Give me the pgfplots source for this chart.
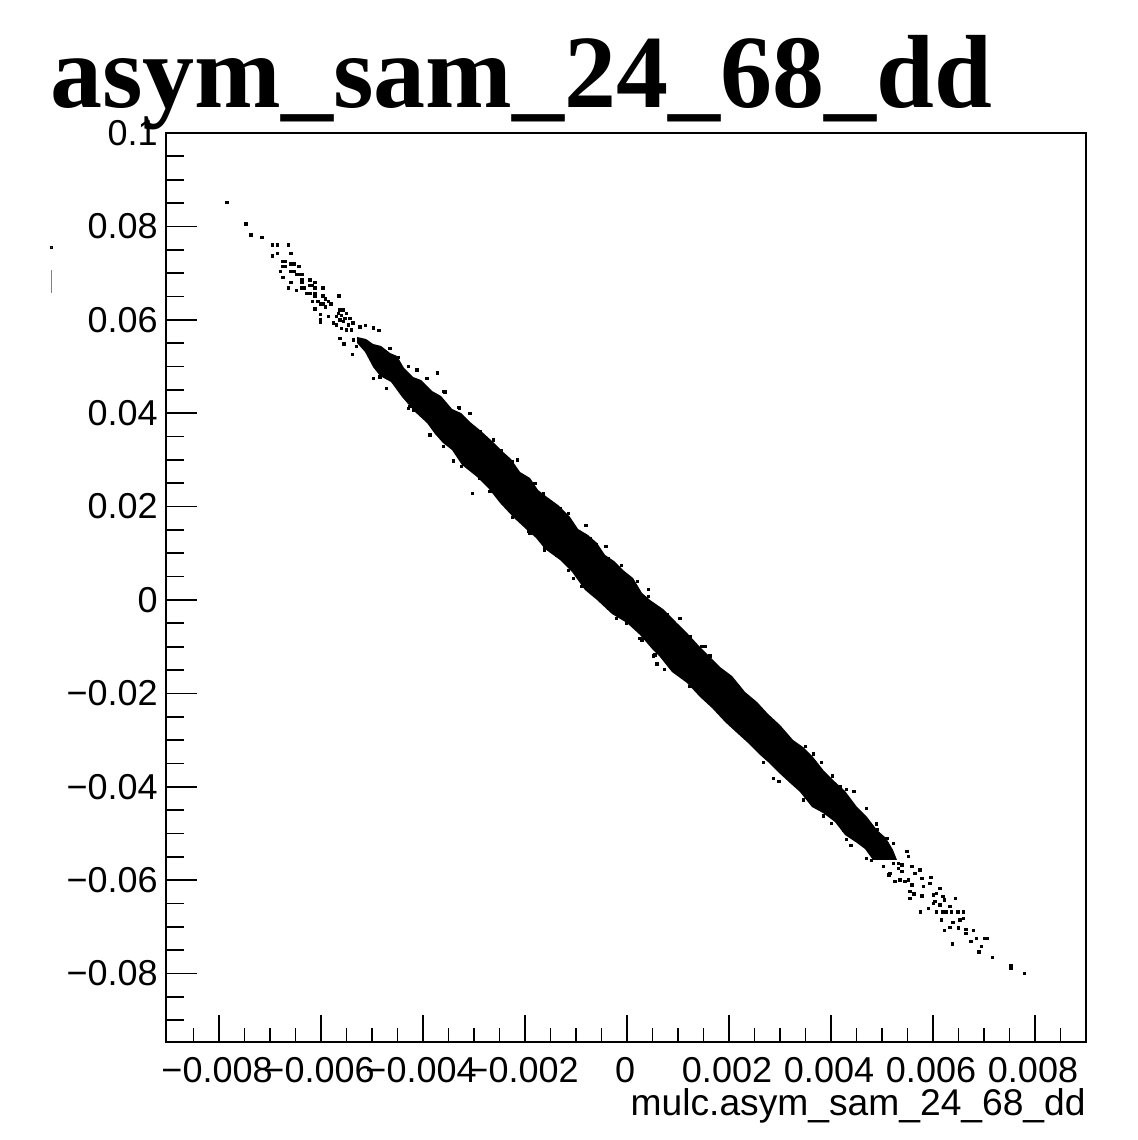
\documentclass[border=0pt]{standalone}
\usepackage{fontspec}
\setmainfont{Liberation Sans}
\newfontfamily\titlefont{Liberation Serif}
\usepackage{pgfplots}
\pgfplotsset{compat=1.18}
\begin{document}
\begin{tikzpicture}
\path[use as bounding box] (0,0) rectangle (568.5pt,570pt);
\node[anchor=base west,inner sep=0pt] at (25pt,516pt) {\titlefont\bfseries\fontsize{52}{52}\selectfont asym\_sam\_24\_68\_dd};
\begin{axis}[
  at={(83pt,49pt)},anchor=south west,
  scale only axis,width=460pt,height=454.5pt,
  xmin=-0.00904,xmax=0.0090,ymin=-0.09465,ymax=0.1,
  clip=false,
  tick align=inside,xtick pos=bottom,ytick pos=left,
  scaled ticks=false,
  axis line style={line width=0.85pt,black},
  major tick style={line width=0.85pt,black},
  minor tick style={line width=0.85pt,black},
  xtick={-0.008,-0.006,-0.004,-0.002,0,0.002,0.004,0.006,0.008},
  xticklabels={−0.008,−0.006,−0.004,−0.002,0,0.002,0.004,0.006,0.008},
  ytick={-0.08,-0.06,-0.04,-0.02,0,0.02,0.04,0.06,0.08,0.1},
  yticklabels={−0.08,−0.06,−0.04,−0.02,0,0.02,0.04,0.06,0.08,0.1},
  minor xtick={-0.0085,-0.0075,-0.007,-0.0065,-0.0055,-0.005,-0.0045,-0.0035,-0.003,-0.0025,-0.0015,-0.001,-0.0005,0.0005,0.001,0.0015,0.0025,0.003,0.0035,0.0045,0.005,0.0055,0.0065,0.007,0.0075,0.0085},
  minor ytick={-0.09,-0.085,-0.075,-0.07,-0.065,-0.055,-0.05,-0.045,-0.035,-0.03,-0.025,-0.015,-0.01,-0.005,0.005,0.01,0.015,0.025,0.03,0.035,0.045,0.05,0.055,0.065,0.07,0.075,0.085,0.09,0.095},
  major tick length=14.5pt,minor tick length=8pt,
  x tick style={/pgfplots/major tick length=13.5pt,/pgfplots/minor tick length=7pt},
  y tick style={/pgfplots/major tick length=15.5pt,/pgfplots/minor tick length=9pt},
  tick label style={font=\fontsize{18}{18}\selectfont,inner sep=0pt},
  xticklabel style={yshift=-7.5pt,xshift=-1pt},
  yticklabel style={xshift=-4pt},
  xlabel={mulc.asym\_sam\_24\_68\_dd},
  xlabel style={at={(rel axis cs:1,0)},anchor=base east,yshift=-36.5pt,font=\fontsize{18.6}{18.6}\selectfont,inner sep=0pt},
]
% dense band of the scatter: outline (x, y)
\addplot[fill=black,draw=none] coordinates {
(-5.294e-3,56.32e-3)(-5.118e-3,55.89e-3)(-4.980e-3,54.82e-3)(-4.824e-3,54.39e-3)(-4.647e-3,52.89e-3)(-4.510e-3,52.25e-3)(-4.373e-3,49.68e-3)(-4.196e-3,47.75e-3)(-4.039e-3,47.11e-3)(-3.824e-3,44.75e-3)(-3.647e-3,43.68e-3)(-3.431e-3,40.90e-3)(-3.255e-3,40.04e-3)(-3.078e-3,38.12e-3)(-2.863e-3,36.19e-3)(-2.627e-3,33.83e-3)(-2.451e-3,31.91e-3)(-2.275e-3,30.19e-3)(-2.098e-3,27.41e-3)(-1.902e-3,26.12e-3)(-1.745e-3,23.55e-3)(-1.569e-3,22.06e-3)(-1.353e-3,20.34e-3)(-1.118e-3,17.77e-3)(-0.961e-3,15.20e-3)(-0.765e-3,13.92e-3)(-0.588e-3,12.21e-3)(-0.431e-3,9.64e-3)(-0.255e-3,8.35e-3)(-0.078e-3,6.42e-3)(0.118e-3,4.71e-3)(0.294e-3,1.50e-3)(0.451e-3,0)(0.706e-3,-1.93e-3)(0.980e-3,-4.93e-3)(1.196e-3,-7.28e-3)(1.431e-3,-10.06e-3)(1.627e-3,-12.21e-3)(1.824e-3,-14.35e-3)(2.059e-3,-16.27e-3)(2.314e-3,-19.70e-3)(2.549e-3,-21.84e-3)(2.765e-3,-24.41e-3)(3.0e-3,-26.77e-3)(3.255e-3,-29.98e-3)(3.451e-3,-31.48e-3)(3.647e-3,-33.62e-3)(3.863e-3,-36.62e-3)(4.039e-3,-38.54e-3)(4.275e-3,-40.90e-3)(4.510e-3,-44.33e-3)(4.706e-3,-46.47e-3)(4.902e-3,-49.25e-3)(5.078e-3,-50.96e-3)(5.216e-3,-53.53e-3)(5.294e-3,-55.67e-3)
(4.824e-3,-55.67e-3)(4.667e-3,-53.32e-3)(4.510e-3,-52.03e-3)(4.275e-3,-50.32e-3)(4.078e-3,-47.54e-3)(3.843e-3,-45.61e-3)(3.627e-3,-44.33e-3)(3.392e-3,-41.11e-3)(3.196e-3,-39.19e-3)(2.961e-3,-36.83e-3)(2.765e-3,-34.69e-3)(2.608e-3,-33.19e-3)(2.373e-3,-30.62e-3)(2.157e-3,-28.48e-3)(1.922e-3,-26.12e-3)(1.667e-3,-23.13e-3)(1.431e-3,-20.77e-3)(1.176e-3,-17.77e-3)(0.882e-3,-15.42e-3)(0.647e-3,-12.21e-3)(0.510e-3,-10.71e-3)(0.255e-3,-7.49e-3)(0,-4.93e-3)(-0.294e-3,-3.00e-3)(-0.588e-3,0)(-0.824e-3,2.14e-3)(-1.078e-3,6.00e-3)(-1.314e-3,8.57e-3)(-1.608e-3,10.92e-3)(-1.784e-3,13.28e-3)(-1.961e-3,14.99e-3)(-2.216e-3,17.56e-3)(-2.490e-3,20.77e-3)(-2.706e-3,23.77e-3)(-2.941e-3,26.34e-3)(-3.235e-3,28.91e-3)(-3.431e-3,32.12e-3)(-3.608e-3,33.62e-3)(-3.765e-3,35.55e-3)(-3.922e-3,37.90e-3)(-4.157e-3,40.26e-3)(-4.412e-3,43.47e-3)(-4.627e-3,46.68e-3)(-4.843e-3,47.97e-3)(-4.980e-3,49.89e-3)(-5.137e-3,53.11e-3)(-5.294e-3,55.03e-3)
} -- cycle;
% individual points
\addplot[only marks,mark=square*,mark size=0.6pt,mark options={draw=none,fill=black}] table[row sep=\\] {
x y\\
-7.843e-3 85.2e-3\\ -7.477e-3 80.5e-3\\ -7.373e-3 78.2e-3\\ -7.163e-3 77.7e-3\\ -6.954e-3 76.0e-3\\ -6.850e-3 76.0e-3\\ -6.641e-3 76.0e-3\\ -6.850e-3 74.2e-3\\ -6.588e-3 74.2e-3\\ -6.954e-3 73.7e-3\\
-6.745e-3 72.5e-3\\ -6.693e-3 72.5e-3\\ -6.745e-3 71.4e-3\\ -6.693e-3 71.4e-3\\ -6.588e-3 72.0e-3\\ -6.536e-3 72.0e-3\\ -6.431e-3 71.4e-3\\ -6.588e-3 70.3e-3\\ -6.536e-3 70.3e-3\\ -6.484e-3 69.7e-3\\
-6.797e-3 70.3e-3\\ -6.745e-3 69.1e-3\\ -6.431e-3 69.7e-3\\ -6.379e-3 69.7e-3\\ -6.379e-3 68.5e-3\\ -6.379e-3 68.0e-3\\ -6.588e-3 68.0e-3\\ -6.641e-3 66.8e-3\\ -6.484e-3 66.3e-3\\ -6.379e-3 66.8e-3\\ -6.327e-3 66.8e-3\\
-6.222e-3 68.5e-3\\ -6.222e-3 67.4e-3\\ -6.118e-3 68.0e-3\\ -6.118e-3 66.8e-3\\ -6.170e-3 67.4e-3\\ -5.961e-3 66.8e-3\\ -6.275e-3 65.7e-3\\ -6.222e-3 65.7e-3\\ -6.118e-3 65.7e-3\\ -6.118e-3 65.1e-3\\ -5.647e-3 65.1e-3\\
-5.961e-3 65.1e-3\\ -5.909e-3 64.5e-3\\ -5.856e-3 64.0e-3\\ -5.804e-3 63.4e-3\\ -5.961e-3 63.4e-3\\ -6.065e-3 64.0e-3\\ -6.013e-3 63.4e-3\\ -5.909e-3 62.8e-3\\ -6.118e-3 62.3e-3\\ -6.170e-3 64.0e-3\\ -6.013e-3 61.1e-3\\ -6.013e-3 60.0e-3\\ -6.013e-3 59.4e-3\\ -5.856e-3 60.7e-3\\ -5.752e-3 59.3e-3\\
-5.693e-3 60.7e-3\\ -5.627e-3 62.1e-3\\ -5.562e-3 62.1e-3\\ -5.497e-3 61.4e-3\\ -5.431e-3 60.3e-3\\ -5.379e-3 59.3e-3\\ -5.627e-3 60.0e-3\\ -5.562e-3 59.6e-3\\ -5.660e-3 61.4e-3\\ -5.595e-3 61.0e-3\\ -5.529e-3 60.3e-3\\ -5.464e-3 58.9e-3\\ -5.497e-3 57.8e-3\\ -5.595e-3 58.2e-3\\ -5.693e-3 58.9e-3\\ -5.399e-3 57.8e-3\\ -5.627e-3 56.0e-3\\ -5.549e-3 54.8e-3\\ -5.386e-3 52.6e-3\\ -5.366e-3 55.7e-3\\ -5.235e-3 58.5e-3\\ -5.131e-3 58.8e-3\\ -4.974e-3 58.3e-3\\ -4.863e-3 57.7e-3\\ -4.974e-3 47.5e-3\\ -3.713e-3 48.6e-3\\ -4.647e-3 53.9e-3\\ -4.484e-3 52.0e-3\\ -4.288e-3 50.0e-3\\ -4.124e-3 49.3e-3\\ -3.928e-3 47.5e-3\\ -3.569e-3 44.6e-3\\ -3.294e-3 41.2e-3\\ -3.079e-3 40.0e-3\\ -4.255e-3 41.4e-3\\ -4.713e-3 45.3e-3\\ -4.843e-3 47.8e-3\\ -5.301e-3 54.3e-3\\
5.222e-3 -56.39e-3\\ 5.320e-3 -56.39e-3\\ 5.386e-3 -56.75e-3\\ 5.320e-3 -57.46e-3\\ 5.386e-3 -58.17e-3\\ 5.157e-3 -58.53e-3\\ 5.255e-3 -60.32e-3\\ 5.353e-3 -59.96e-3\\ 5.451e-3 -60.32e-3\\ 5.516e-3 -59.96e-3\\ 5.582e-3 -61.03e-3\\ 5.647e-3 -58.53e-3\\ 5.745e-3 -57.82e-3\\ 5.778e-3 -59.6e-3\\ 5.549e-3 -62.46e-3\\ 5.549e-3 -63.96e-3\\ 5.628e-3 -62.96e-3\\ 5.778e-3 -63.38e-3\\ 5.811e-3 -61.39e-3\\ 5.941e-3 -60.67e-3\\ 5.961e-3 -59.39e-3\\ 5.484e-3 -53.89e-3\\ 5.516e-3 -54.96e-3\\ 5.582e-3 -57.1e-3\\
6.007e-3 -63.17e-3\\ 6.072e-3 -62.81e-3\\ 6.137e-3 -61.74e-3\\ 6.190e-3 -63.53e-3\\ 6.222e-3 -64.24e-3\\ 6.039e-3 -64.6e-3\\ 6.137e-3 -65.31e-3\\ 5.909e-3 -66.03e-3\\ 6.007e-3 -64.96e-3\\ 5.758e-3 -66.81e-3\\ 6.072e-3 -66.81e-3\\ 6.190e-3 -66.81e-3\\ 6.268e-3 -66.81e-3\\ 6.366e-3 -66.81e-3\\ 6.438e-3 -63.96e-3\\ 6.333e-3 -65.67e-3\\ 6.490e-3 -66.81e-3\\ 6.595e-3 -66.81e-3\\ 6.595e-3 -68.17e-3\\ 6.529e-3 -68.52e-3\\ 6.170e-3 -68.52e-3\\ 6.386e-3 -69.1e-3\\ 6.333e-3 -70.1e-3\\ 6.222e-3 -70.81e-3\\ 6.497e-3 -70.24e-3\\ 6.647e-3 -70.52e-3\\ 6.647e-3 -71.38e-3\\ 6.797e-3 -70.81e-3\\ 6.856e-3 -72.52e-3\\ 6.745e-3 -73.09e-3\\ 7.020e-3 -72.52e-3\\ 7.072e-3 -72.52e-3\\ 6.379e-3 -73.66e-3\\ 6.954e-3 -74.24e-3\\ 6.902e-3 -75.38e-3\\ 7.164e-3 -76.52e-3\\ 7.529e-3 -78.23e-3\\ 7.529e-3 -78.8e-3\\ 7.791e-3 -79.94e-3\\
2.869e-3 -38.19e-3\\ 2.981e-3 -38.9e-3\\ 2.673e-3 -34.83e-3\\ 3.458e-3 -42.83e-3\\ 3.503e-3 -41.04e-3\\ 4.307e-3 -40.54e-3\\ 4.451e-3 -41.04e-3\\ 4.177e-3 -39.97e-3\\ 3.817e-3 -34.83e-3\\ 4.026e-3 -37.69e-3\\ 3.654e-3 -32.98e-3\\ 3.503e-3 -31.41e-3\\ 4.699e-3 -44.61e-3\\ 4.569e-3 -47.11e-3\\ 4.895e-3 -47.97e-3\\ 4.909e-3 -49.11e-3\\ 5.092e-3 -51.04e-3\\ 5.222e-3 -52.11e-3\\ 4.307e-3 -51.25e-3\\ 4.386e-3 -52.54e-3\\ 4.242e-3 -49.25e-3\\ 4.013e-3 -47.82e-3\\ 3.850e-3 -46.25e-3\\ 3.654e-3 -43.9e-3\\ 4.699e-3 -55.32e-3\\ 4.797e-3 -55.82e-3\\ 5.026e-3 -57.1e-3\\ 5.137e-3 -58.89e-3\\
-3.601e-3 44.61e-3\\ -3.288e-3 41.11e-3\\ -3.085e-3 39.97e-3\\ -3.405e-3 29.76e-3\\ -3.242e-3 28.55e-3\\ -3.033e-3 22.84e-3\\ -2.458e-3 31.98e-3\\ -2.144e-3 29.98e-3\\ -2.621e-3 34.26e-3\\ -2.248e-3 17.70e-3\\ -1.935e-3 14.63e-3\\ -1.621e-3 10.71e-3\\ -1.150e-3 6.28e-3\\ -1.046e-3 4.57e-3\\ -0.882e-3 2.86e-3\\ -0.810e-3 15.99e-3\\ -0.418e-3 11.42e-3\\ -0.105e-3 7.43e-3\\ 0.209e-3 4.0e-3\\ 0.418e-3 2.28e-3\\ 1.039e-3 -3.99e-3\\ -0.203e-3 -3.99e-3\\ 0.255e-3 -8.21e-3\\ 0.582e-3 -13.70e-3\\ 0.732e-3 -14.85e-3\\ 0.516e-3 -11.99e-3\\ 1.529e-3 -9.99e-3\\ 1.627e-3 -11.99e-3\\
-2.882e-3 36.05e-3\\ -2.261e-3 29.62e-3\\ -1.804e-3 24.98e-3\\ -1.641e-3 22.84e-3\\ -1.314e-3 19.63e-3\\ -1.150e-3 18.56e-3\\ -0.725e-3 13.21e-3\\ -0.595e-3 11.78e-3\\ -0.366e-3 8.92e-3\\ 0.418e-3 0.71e-3\\ 0.778e-3 -3.21e-3\\ 1.464e-3 -9.99e-3\\ 1.235e-3 -7.85e-3\\
-2.882e-3 26.05e-3\\ -2.686e-3 23.20e-3\\ -2.294e-3 20.34e-3\\ -1.902e-3 14.28e-3\\ -1.608e-3 11.07e-3\\ -1.379e-3 9.64e-3\\ -0.595e-3 1.07e-3\\ -0.366e-3 -1.78e-3\\ -0.007e-3 -4.99e-3\\ 0.288e-3 -8.57e-3\\ 0.549e-3 -11.78e-3\\ 1.235e-3 -18.56e-3\\ -3.601e-3 32.83e-3\\ -3.863e-3 35.33e-3\\ -4.190e-3 40.69e-3\\ -4.288e-3 41.04e-3\\
};
% cropped remnants left of the axis
\addplot[only marks,mark=square*,mark size=0.5pt,mark options={draw=none,fill=black!70}] coordinates {(-11.29e-3,75.6e-3)};
\addplot[line width=0.5pt,black!50,no marks] coordinates {(-11.29e-3,70.7e-3)(-11.29e-3,65.7e-3)};
\end{axis}
\end{tikzpicture}
\end{document}
